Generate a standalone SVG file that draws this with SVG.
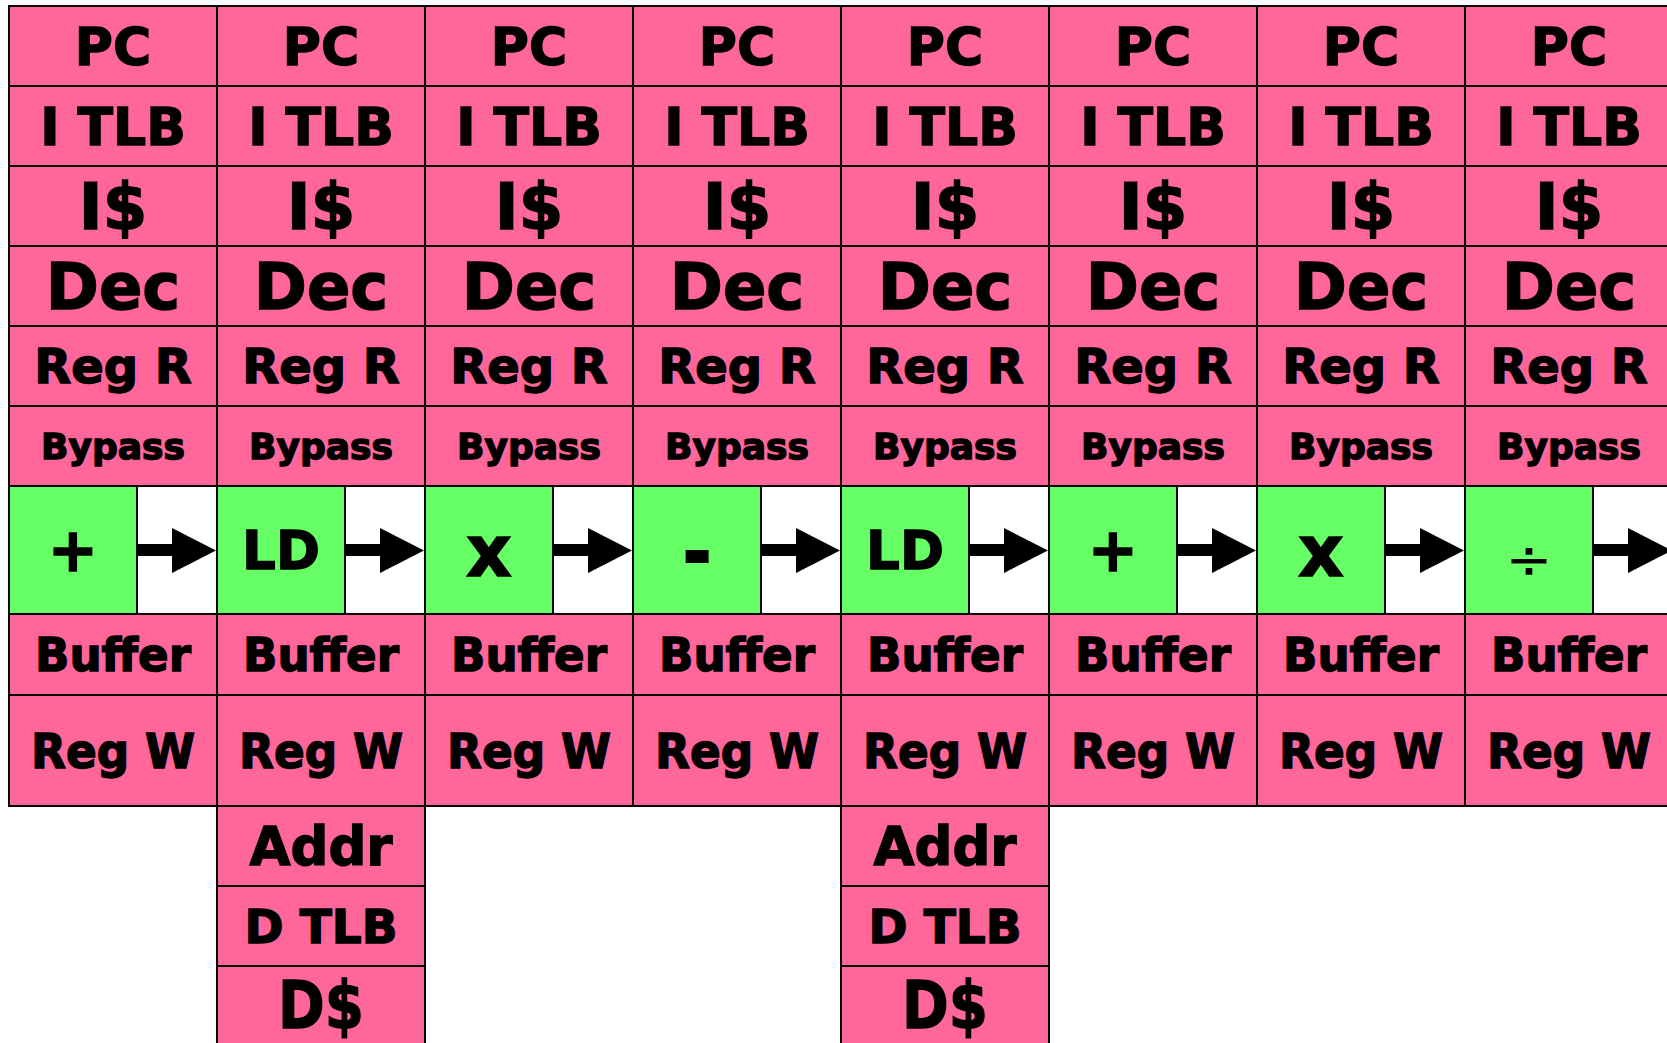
<svg xmlns="http://www.w3.org/2000/svg" width="1667" height="1043" viewBox="0 0 1667 1043">
<style>
  .st { fill: #ff6699; stroke: #000; stroke-width: 2; }
  .alu { fill: #66ff66; stroke: #000; stroke-width: 2; }
  .gap { fill: #fff; stroke: #000; stroke-width: 2; }
  text { font-family: "DejaVu Sans", "Liberation Sans", sans-serif; font-weight: bold; fill: #000; stroke: #000; stroke-width: 1.4; text-anchor: middle; }
  .pc { font-size: 52px; }
  .itlb { font-size: 52px; }
  .ic { font-size: 64px; }
  .dec { font-size: 64px; }
  .rr { font-size: 48px; }
  .byp { font-size: 36px; }
  .op { font-size: 53px; }
  .opx { font-size: 71px; }
  .opp { font-size: 60px; }
  .opm { font-size: 62px; stroke-width: 4; }
  .opd { font-size: 56px; font-weight: normal; stroke-width: 0; }
  .buf { font-size: 47px; }
  .rw { font-size: 48px; }
  .addr { font-size: 53px; }
  .dtlb { font-size: 47px; }
  .dc { font-size: 66px; }
  .arrow { fill: #000; }
</style>
<rect width="1667" height="1043" fill="#fff"/>

<!-- pipeline 0 -->
<g id="p0-pc"><rect class="st" x="9" y="6" width="208" height="80"/><text class="pc" x="113" y="65">PC</text></g>
<g id="p0-itlb"><rect class="st" x="9" y="86" width="208" height="80"/><text class="itlb" x="113" y="145">I TLB</text></g>
<g id="p0-icache"><rect class="st" x="9" y="166" width="208" height="80"/><text class="ic" x="113" y="229">I$</text></g>
<g id="p0-dec"><rect class="st" x="9" y="246" width="208" height="80"/><text class="dec" x="113" y="309">Dec</text></g>
<g id="p0-regr"><rect class="st" x="9" y="326" width="208" height="80"/><text class="rr" x="113" y="383">Reg R</text></g>
<g id="p0-bypass"><rect class="st" x="9" y="406" width="208" height="80"/><text class="byp" x="113" y="459">Bypass</text></g>
<g id="p0-alu"><rect class="alu" x="9" y="486" width="128" height="128"/><rect class="gap" x="137" y="486" width="80" height="128"/><text class="opp" x="73" y="571">+</text></g>
<g id="p0-buffer"><rect class="st" x="9" y="614" width="208" height="81"/><text class="buf" x="113" y="671" textLength="156" lengthAdjust="spacingAndGlyphs">Buffer</text></g>
<g id="p0-regw"><rect class="st" x="9" y="695" width="208" height="111"/><text class="rw" x="113" y="768" textLength="164" lengthAdjust="spacingAndGlyphs">Reg W</text></g>

<!-- pipeline 1 (load) -->
<g id="p1-pc"><rect class="st" x="217" y="6" width="208" height="80"/><text class="pc" x="321" y="65">PC</text></g>
<g id="p1-itlb"><rect class="st" x="217" y="86" width="208" height="80"/><text class="itlb" x="321" y="145">I TLB</text></g>
<g id="p1-icache"><rect class="st" x="217" y="166" width="208" height="80"/><text class="ic" x="321" y="229">I$</text></g>
<g id="p1-dec"><rect class="st" x="217" y="246" width="208" height="80"/><text class="dec" x="321" y="309">Dec</text></g>
<g id="p1-regr"><rect class="st" x="217" y="326" width="208" height="80"/><text class="rr" x="321" y="383">Reg R</text></g>
<g id="p1-bypass"><rect class="st" x="217" y="406" width="208" height="80"/><text class="byp" x="321" y="459">Bypass</text></g>
<g id="p1-alu"><rect class="alu" x="217" y="486" width="128" height="128"/><rect class="gap" x="345" y="486" width="80" height="128"/><text class="op" x="281" y="569">LD</text></g>
<g id="p1-buffer"><rect class="st" x="217" y="614" width="208" height="81"/><text class="buf" x="321" y="671" textLength="156" lengthAdjust="spacingAndGlyphs">Buffer</text></g>
<g id="p1-regw"><rect class="st" x="217" y="695" width="208" height="111"/><text class="rw" x="321" y="768" textLength="164" lengthAdjust="spacingAndGlyphs">Reg W</text></g>
<g id="p1-addr"><rect class="st" x="217" y="806" width="208" height="80"/><text class="addr" x="321" y="865">Addr</text></g>
<g id="p1-dtlb"><rect class="st" x="217" y="886" width="208" height="80"/><text class="dtlb" x="321" y="943">D TLB</text></g>
<g id="p1-dcache"><rect class="st" x="217" y="966" width="208" height="80"/><text class="dc" x="321" y="1028" textLength="86" lengthAdjust="spacingAndGlyphs">D$</text></g>

<!-- pipeline 2 -->
<g id="p2-pc"><rect class="st" x="425" y="6" width="208" height="80"/><text class="pc" x="529" y="65">PC</text></g>
<g id="p2-itlb"><rect class="st" x="425" y="86" width="208" height="80"/><text class="itlb" x="529" y="145">I TLB</text></g>
<g id="p2-icache"><rect class="st" x="425" y="166" width="208" height="80"/><text class="ic" x="529" y="229">I$</text></g>
<g id="p2-dec"><rect class="st" x="425" y="246" width="208" height="80"/><text class="dec" x="529" y="309">Dec</text></g>
<g id="p2-regr"><rect class="st" x="425" y="326" width="208" height="80"/><text class="rr" x="529" y="383">Reg R</text></g>
<g id="p2-bypass"><rect class="st" x="425" y="406" width="208" height="80"/><text class="byp" x="529" y="459">Bypass</text></g>
<g id="p2-alu"><rect class="alu" x="425" y="486" width="128" height="128"/><rect class="gap" x="553" y="486" width="80" height="128"/><text class="opx" x="489" y="576">x</text></g>
<g id="p2-buffer"><rect class="st" x="425" y="614" width="208" height="81"/><text class="buf" x="529" y="671" textLength="156" lengthAdjust="spacingAndGlyphs">Buffer</text></g>
<g id="p2-regw"><rect class="st" x="425" y="695" width="208" height="111"/><text class="rw" x="529" y="768" textLength="164" lengthAdjust="spacingAndGlyphs">Reg W</text></g>

<!-- pipeline 3 -->
<g id="p3-pc"><rect class="st" x="633" y="6" width="208" height="80"/><text class="pc" x="737" y="65">PC</text></g>
<g id="p3-itlb"><rect class="st" x="633" y="86" width="208" height="80"/><text class="itlb" x="737" y="145">I TLB</text></g>
<g id="p3-icache"><rect class="st" x="633" y="166" width="208" height="80"/><text class="ic" x="737" y="229">I$</text></g>
<g id="p3-dec"><rect class="st" x="633" y="246" width="208" height="80"/><text class="dec" x="737" y="309">Dec</text></g>
<g id="p3-regr"><rect class="st" x="633" y="326" width="208" height="80"/><text class="rr" x="737" y="383">Reg R</text></g>
<g id="p3-bypass"><rect class="st" x="633" y="406" width="208" height="80"/><text class="byp" x="737" y="459">Bypass</text></g>
<g id="p3-alu"><rect class="alu" x="633" y="486" width="128" height="128"/><rect class="gap" x="761" y="486" width="80" height="128"/><text class="opm" x="697" y="575">-</text></g>
<g id="p3-buffer"><rect class="st" x="633" y="614" width="208" height="81"/><text class="buf" x="737" y="671" textLength="156" lengthAdjust="spacingAndGlyphs">Buffer</text></g>
<g id="p3-regw"><rect class="st" x="633" y="695" width="208" height="111"/><text class="rw" x="737" y="768" textLength="164" lengthAdjust="spacingAndGlyphs">Reg W</text></g>

<!-- pipeline 4 (load) -->
<g id="p4-pc"><rect class="st" x="841" y="6" width="208" height="80"/><text class="pc" x="945" y="65">PC</text></g>
<g id="p4-itlb"><rect class="st" x="841" y="86" width="208" height="80"/><text class="itlb" x="945" y="145">I TLB</text></g>
<g id="p4-icache"><rect class="st" x="841" y="166" width="208" height="80"/><text class="ic" x="945" y="229">I$</text></g>
<g id="p4-dec"><rect class="st" x="841" y="246" width="208" height="80"/><text class="dec" x="945" y="309">Dec</text></g>
<g id="p4-regr"><rect class="st" x="841" y="326" width="208" height="80"/><text class="rr" x="945" y="383">Reg R</text></g>
<g id="p4-bypass"><rect class="st" x="841" y="406" width="208" height="80"/><text class="byp" x="945" y="459">Bypass</text></g>
<g id="p4-alu"><rect class="alu" x="841" y="486" width="128" height="128"/><rect class="gap" x="969" y="486" width="80" height="128"/><text class="op" x="905" y="569">LD</text></g>
<g id="p4-buffer"><rect class="st" x="841" y="614" width="208" height="81"/><text class="buf" x="945" y="671" textLength="156" lengthAdjust="spacingAndGlyphs">Buffer</text></g>
<g id="p4-regw"><rect class="st" x="841" y="695" width="208" height="111"/><text class="rw" x="945" y="768" textLength="164" lengthAdjust="spacingAndGlyphs">Reg W</text></g>
<g id="p4-addr"><rect class="st" x="841" y="806" width="208" height="80"/><text class="addr" x="945" y="865">Addr</text></g>
<g id="p4-dtlb"><rect class="st" x="841" y="886" width="208" height="80"/><text class="dtlb" x="945" y="943">D TLB</text></g>
<g id="p4-dcache"><rect class="st" x="841" y="966" width="208" height="80"/><text class="dc" x="945" y="1028" textLength="86" lengthAdjust="spacingAndGlyphs">D$</text></g>

<!-- pipeline 5 -->
<g id="p5-pc"><rect class="st" x="1049" y="6" width="208" height="80"/><text class="pc" x="1153" y="65">PC</text></g>
<g id="p5-itlb"><rect class="st" x="1049" y="86" width="208" height="80"/><text class="itlb" x="1153" y="145">I TLB</text></g>
<g id="p5-icache"><rect class="st" x="1049" y="166" width="208" height="80"/><text class="ic" x="1153" y="229">I$</text></g>
<g id="p5-dec"><rect class="st" x="1049" y="246" width="208" height="80"/><text class="dec" x="1153" y="309">Dec</text></g>
<g id="p5-regr"><rect class="st" x="1049" y="326" width="208" height="80"/><text class="rr" x="1153" y="383">Reg R</text></g>
<g id="p5-bypass"><rect class="st" x="1049" y="406" width="208" height="80"/><text class="byp" x="1153" y="459">Bypass</text></g>
<g id="p5-alu"><rect class="alu" x="1049" y="486" width="128" height="128"/><rect class="gap" x="1177" y="486" width="80" height="128"/><text class="opp" x="1113" y="571">+</text></g>
<g id="p5-buffer"><rect class="st" x="1049" y="614" width="208" height="81"/><text class="buf" x="1153" y="671" textLength="156" lengthAdjust="spacingAndGlyphs">Buffer</text></g>
<g id="p5-regw"><rect class="st" x="1049" y="695" width="208" height="111"/><text class="rw" x="1153" y="768" textLength="164" lengthAdjust="spacingAndGlyphs">Reg W</text></g>

<!-- pipeline 6 -->
<g id="p6-pc"><rect class="st" x="1257" y="6" width="208" height="80"/><text class="pc" x="1361" y="65">PC</text></g>
<g id="p6-itlb"><rect class="st" x="1257" y="86" width="208" height="80"/><text class="itlb" x="1361" y="145">I TLB</text></g>
<g id="p6-icache"><rect class="st" x="1257" y="166" width="208" height="80"/><text class="ic" x="1361" y="229">I$</text></g>
<g id="p6-dec"><rect class="st" x="1257" y="246" width="208" height="80"/><text class="dec" x="1361" y="309">Dec</text></g>
<g id="p6-regr"><rect class="st" x="1257" y="326" width="208" height="80"/><text class="rr" x="1361" y="383">Reg R</text></g>
<g id="p6-bypass"><rect class="st" x="1257" y="406" width="208" height="80"/><text class="byp" x="1361" y="459">Bypass</text></g>
<g id="p6-alu"><rect class="alu" x="1257" y="486" width="128" height="128"/><rect class="gap" x="1385" y="486" width="80" height="128"/><text class="opx" x="1321" y="576">x</text></g>
<g id="p6-buffer"><rect class="st" x="1257" y="614" width="208" height="81"/><text class="buf" x="1361" y="671" textLength="156" lengthAdjust="spacingAndGlyphs">Buffer</text></g>
<g id="p6-regw"><rect class="st" x="1257" y="695" width="208" height="111"/><text class="rw" x="1361" y="768" textLength="164" lengthAdjust="spacingAndGlyphs">Reg W</text></g>

<!-- pipeline 7 -->
<g id="p7-pc"><rect class="st" x="1465" y="6" width="208" height="80"/><text class="pc" x="1569" y="65">PC</text></g>
<g id="p7-itlb"><rect class="st" x="1465" y="86" width="208" height="80"/><text class="itlb" x="1569" y="145">I TLB</text></g>
<g id="p7-icache"><rect class="st" x="1465" y="166" width="208" height="80"/><text class="ic" x="1569" y="229">I$</text></g>
<g id="p7-dec"><rect class="st" x="1465" y="246" width="208" height="80"/><text class="dec" x="1569" y="309">Dec</text></g>
<g id="p7-regr"><rect class="st" x="1465" y="326" width="208" height="80"/><text class="rr" x="1569" y="383">Reg R</text></g>
<g id="p7-bypass"><rect class="st" x="1465" y="406" width="208" height="80"/><text class="byp" x="1569" y="459">Bypass</text></g>
<g id="p7-alu"><rect class="alu" x="1465" y="486" width="128" height="128"/><rect class="gap" x="1593" y="486" width="80" height="128"/><text class="opd" x="1529" y="578">÷</text></g>
<g id="p7-buffer"><rect class="st" x="1465" y="614" width="208" height="81"/><text class="buf" x="1569" y="671" textLength="156" lengthAdjust="spacingAndGlyphs">Buffer</text></g>
<g id="p7-regw"><rect class="st" x="1465" y="695" width="208" height="111"/><text class="rw" x="1569" y="768" textLength="164" lengthAdjust="spacingAndGlyphs">Reg W</text></g>

<!-- execute-stage arrows -->
<g id="connectors" class="arrow">
  <path d="M137 544h35v12h-35z M172 528L216 550.5L172 573z"/>
  <path d="M345 544h35v12h-35z M380 528L424 550.5L380 573z"/>
  <path d="M553 544h35v12h-35z M588 528L632 550.5L588 573z"/>
  <path d="M761 544h35v12h-35z M796 528L840 550.5L796 573z"/>
  <path d="M969 544h35v12h-35z M1004 528L1048 550.5L1004 573z"/>
  <path d="M1177 544h35v12h-35z M1212 528L1256 550.5L1212 573z"/>
  <path d="M1385 544h35v12h-35z M1420 528L1464 550.5L1420 573z"/>
  <path d="M1593 544h35v12h-35z M1628 528L1672 550.5L1628 573z"/>
</g>
</svg>
